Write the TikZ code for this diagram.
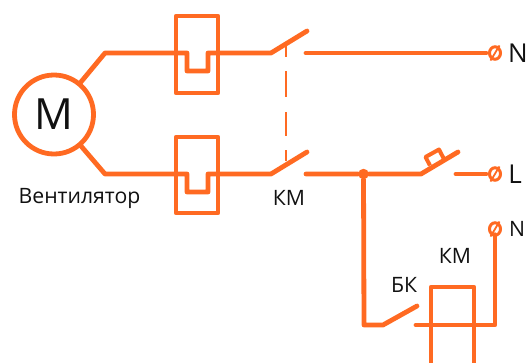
\documentclass[tikz,border=0pt]{standalone}
\usepackage{fontspec}
\setmainfont{Open Sans}
\usetikzlibrary{shapes.geometric}
\definecolor{wire}{HTML}{FF6A22}
\definecolor{ink}{HTML}{111111}
\tikzset{
  wireline/.style={draw=wire,line width=4.8pt,line cap=round,line join=round},
  linkline/.style={draw=wire,line width=2.6pt,dash pattern=on 11pt off 14pt on 26pt off 15pt on 24pt off 14pt},
  motor/.style={circle,draw=wire,line width=4.8pt,minimum size=79pt,inner sep=0pt,text=ink,font=\fontsize{43}{43}\selectfont},
  terminal/.style={ellipse,draw=wire,line width=3pt,minimum width=11pt,minimum height=12.5pt,inner sep=0pt},
  joint/.style={circle,fill=wire,minimum size=10.5pt,inner sep=0pt},
  biglabel/.style={text=ink,font=\fontsize{26}{26}\selectfont,inner sep=0pt},
  smalllabel/.style={text=ink,font=\fontsize{21.2}{21.2}\selectfont,inner sep=0pt}
}
\begin{document}
\begin{tikzpicture}[x=1pt,y=-1pt]
\useasboundingbox (0,0) rectangle (528,362);
% motor
\node[motor] (m) at (54,114.5) {M};
\node[smalllabel] (vent) at (79.5,198) {Вентилятор};
% named points
\coordinate (ta) at (105,53);
\coordinate (tb) at (271,53);
\coordinate (tc) at (307,31);
\coordinate (td) at (306,53);
\coordinate (ba) at (105,174);
\coordinate (bb) at (271,174);
\coordinate (bc) at (307,152);
\coordinate (bd) at (306,174);
\coordinate (se) at (421,174);
\coordinate (sf) at (458,152);
\coordinate (sg) at (456,174);
\node[joint] (j) at (363.5,174) {};
\node[terminal] (tn) at (495,53) {};
\node[terminal] (tl) at (495,174) {};
\node[terminal] (tk) at (495,229) {};
\node[biglabel] (ln) at (518,53) {N};
\node[biglabel] (ll) at (515,174) {L};
\node[smalllabel] (lk) at (517,229) {N};
\node[smalllabel] (km1) at (289,198) {КМ};
\node[smalllabel] (km2) at (455,256) {КМ};
\node[smalllabel] (bk) at (404,285) {БК};
% terminal slashes
\foreach \t in {tn,tl,tk}{
  \draw[draw=wire,line width=1.8pt] ([shift={(-4.5,7.5)}]\t.center) -- ([shift={(4.5,-7.5)}]\t.center);
}
% top wire
\draw[wireline] (m) -- (ta) -- (187,53) -- (187,71) -- (208,71) -- (208,53) -- (tb) -- (tc);
\draw[wireline,shorten >=2pt] (td) -- (tn);
% bottom wire
\draw[wireline] (m) -- (ba) -- (187,174) -- (187,192) -- (208,192) -- (208,174) -- (bb) -- (bc);
\draw[wireline] (bd) -- (j) -- (se) -- (sf);
\draw[wireline,shorten >=2pt] (sg) -- (tl);
% fuses
\draw[wireline] (176,16) rectangle (218,93);
\draw[wireline] (176,137) rectangle (218,213);
% pushbutton
\draw[draw=wire,line width=4pt,line join=round] (430,165.5) -- (425.5,157) -- (439,149.5) -- (445,161);
% mechanical link
\draw[linkline] (286,46) -- (286,163);
% lower branch
\draw[wireline] (j) -- (364,325) -- (383,325) -- (417,306);
\draw[wireline] (416,325) -- (495,325) -- ([yshift=2pt]tk.south);
% coil
\draw[wireline,line cap=butt] (431,364) -- (431,287) -- (474,287) -- (474,364);
\end{tikzpicture}
\end{document}
